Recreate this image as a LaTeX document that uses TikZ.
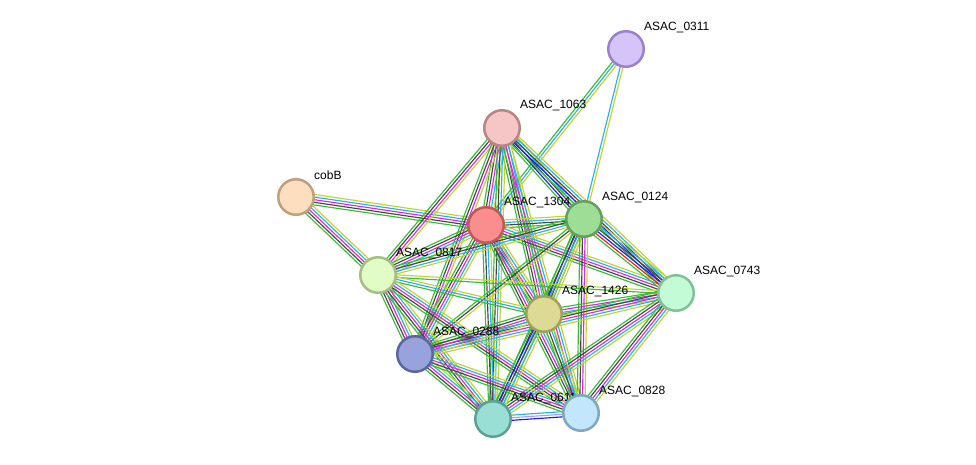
\documentclass[tikz,border=0pt]{standalone}
\usepackage{fontspec}
\setmainfont{Liberation Sans}
\usetikzlibrary{calc}
\pgfdeclarelayer{bg}
\pgfsetlayers{bg,main}
\definecolor{cg}{RGB}{52,190,52}
\definecolor{ck}{RGB}{70,70,70}
\definecolor{cm}{RGB}{222,40,222}
\definecolor{cc}{RGB}{40,178,225}
\definecolor{cy}{RGB}{190,212,50}
\definecolor{cb}{RGB}{25,30,225}
\definecolor{cr}{RGB}{225,30,30}
\definecolor{cp}{RGB}{160,160,255}
\tikzset{
  prot/.style={circle, minimum size=35.5pt, inner sep=0pt, line width=2.5pt},
  lbl/.style={anchor=west, inner sep=0pt, font=\fontsize{12}{14}\selectfont},
  chan/.style={line width=1.15pt}
}
\newcommand{\sedge}[4]{%
  \foreach \cc [count=\ii] in {#4} {%
    \pgfmathsetmacro\oo{(\ii-1-(#3-1)/2)*2.6}%
    \draw[chan,draw=\cc] ($(#1)!\oo pt!90:(#2)$) -- ($(#2)!\oo pt!-90:(#1)$);%
  }%
}
\begin{document}
\begin{tikzpicture}[x=1pt,y=-1pt]
\useasboundingbox (0,0) rectangle (976,465);
% nodes
\node[prot, fill={rgb,255:red,212;green,196;blue,250}, draw={rgb,255:red,155;green,130;blue,200}] (A) at (626,49) {};
\node[lbl] at (644,28) {ASAC\_0311};
\node[prot, fill={rgb,255:red,246;green,198;blue,198}, draw={rgb,255:red,186;green,132;blue,132}] (B) at (502,128) {};
\node[lbl] at (520,106) {ASAC\_1063};
\node[prot, fill={rgb,255:red,253;green,222;blue,190}, draw={rgb,255:red,191;green,160;blue,126}] (C) at (296,197) {};
\node[lbl] at (314,175) {cobB};
\node[prot, fill={rgb,255:red,250;green,142;blue,142}, draw={rgb,255:red,191;green,90;blue,90}] (D) at (486,225) {};
\node[lbl] at (504,203) {ASAC\_1304};
\node[prot, fill={rgb,255:red,158;green,221;blue,149}, draw={rgb,255:red,99;green,160;blue,91}] (E) at (584,219) {};
\node[lbl] at (602,198) {ASAC\_0124};
\node[prot, fill={rgb,255:red,225;green,253;blue,197}, draw={rgb,255:red,164;green,190;blue,134}] (F) at (378,275) {};
\node[lbl] at (396,254) {ASAC\_0817};
\node[prot, fill={rgb,255:red,195;green,251;blue,214}, draw={rgb,255:red,128;green,193;blue,154}] (G) at (676,293) {};
\node[lbl] at (694,272) {ASAC\_0743};
\node[prot, fill={rgb,255:red,220;green,218;blue,149}, draw={rgb,255:red,160;green,159;blue,94}] (H) at (544,314) {};
\node[lbl] at (562,292) {ASAC\_1426};
\node[prot, fill={rgb,255:red,152;green,163;blue,221}, draw={rgb,255:red,91;green,102;blue,161}] (I) at (415,354) {};
\node[lbl] at (433,333) {ASAC\_0288};
\node[prot, fill={rgb,255:red,154;green,223;blue,214}, draw={rgb,255:red,94;green,159;blue,150}] (J) at (493,419) {};
\node[lbl] at (511,398) {ASAC\_0611};
\node[prot, fill={rgb,255:red,194;green,230;blue,251}, draw={rgb,255:red,127;green,167;blue,191}] (K) at (581,413) {};
\node[lbl] at (599,391) {ASAC\_0828};
% edges
\begin{pgfonlayer}{bg}
\sedge{A}{D}{3}{cg,cc,cy}
\sedge{A}{E}{2}{cc,cy}
\sedge{C}{D}{5}{cg,ck,cm,cc,cy}
\sedge{C}{F}{5}{cg,ck,cm,cc,cy}
\sedge{B}{D}{5}{cg,ck,cm,cc,cy}
\sedge{B}{E}{5}{cg,cb,ck,cc,cy}
\sedge{B}{F}{4}{cg,ck,cm,cy}
\sedge{B}{G}{5}{cg,cb,ck,cc,cy}
\sedge{B}{H}{5}{cg,ck,cm,cc,cy}
\sedge{B}{I}{4}{cg,ck,cm,cy}
\sedge{B}{J}{4}{cg,ck,cc,cy}
\sedge{B}{K}{4}{cg,cm,cc,cy}
\sedge{D}{E}{4}{cg,ck,cc,cy}
\sedge{D}{F}{5}{cg,ck,cm,cc,cy}
\sedge{D}{G}{5}{cg,ck,cm,cc,cy}
\sedge{D}{H}{5}{cg,ck,cm,cc,cy}
\sedge{D}{I}{5}{cg,ck,cm,cc,cy}
\sedge{D}{J}{4}{cg,ck,cc,cy}
\sedge{D}{K}{5}{cg,ck,cm,cc,cy}
\sedge{E}{F}{4}{cg,ck,cc,cy}
\sedge{E}{G}{6}{cg,cr,cb,ck,cc,cy}
\sedge{E}{H}{5}{cg,cb,ck,cc,cy}
\sedge{E}{I}{3}{cg,ck,cy}
\sedge{E}{J}{4}{cg,ck,cc,cy}
\sedge{E}{K}{4}{cg,ck,cm,cy}
\sedge{F}{G}{2}{cg,cy}
\sedge{F}{H}{3}{cg,cc,cy}
\sedge{F}{I}{5}{cg,ck,cm,cc,cy}
\sedge{F}{J}{5}{cg,ck,cm,cc,cy}
\sedge{F}{K}{5}{cg,ck,cm,cc,cy}
\sedge{G}{H}{4}{cg,cm,cc,cy}
\sedge{G}{I}{5}{cg,ck,cm,cc,cy}
\sedge{G}{J}{5}{cg,ck,cm,cc,cy}
\sedge{G}{K}{5}{cg,ck,cm,cc,cy}
\sedge{H}{I}{5}{cg,ck,cm,cc,cy}
\sedge{H}{J}{5}{cg,cb,ck,cc,cy}
\sedge{H}{K}{4}{cg,ck,cc,cy}
\sedge{I}{J}{5}{cg,ck,cm,cc,cy}
\sedge{I}{K}{5}{cg,ck,cm,cc,cy}
\sedge{J}{K}{3}{cb,cp,cc}
\end{pgfonlayer}
\end{tikzpicture}
\end{document}
